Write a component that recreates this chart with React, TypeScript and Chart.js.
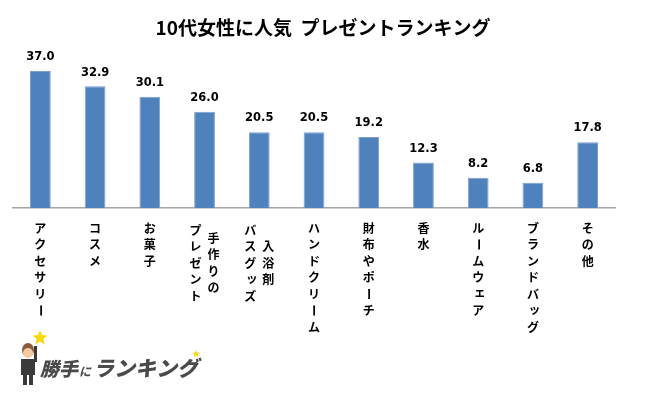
import React, { useEffect, useRef } from 'react';
import { Chart, registerables } from 'chart.js';

Chart.register(...registerables);

const chartTitle = '10代女性に人気  プレゼントランキング';
// each category: columns of vertical text, first column is rightmost (reading order)
const categoryColumns: string[][] = [
  ['アクセサリー'],
  ['コスメ'],
  ['お菓子'],
  ['手作りの', 'プレゼント'],
  ['入浴剤', 'バスグッズ'],
  ['ハンドクリーム'],
  ['財布やポーチ'],
  ['香水'],
  ['ルームウェア'],
  ['ブランドバッグ'],
  ['その他'],
];
const categories = categoryColumns.map((c) => c.join(''));
const values = [37.0, 32.9, 30.1, 26.0, 20.5, 20.5, 19.2, 12.3, 8.2, 6.8, 17.8];
const logoMain = '勝手';
const logoMid = 'に';
const logoSub = 'ランキング';

const SMALL_KANA = 'ッェャュョァィゥォっゃゅょ';

function drawVerticalColumn(ctx: CanvasRenderingContext2D, text: string, x: number, yTop: number, lh: number) {
  const chars = Array.from(text);
  chars.forEach((ch, i) => {
    const y = yTop + i * lh;
    ctx.save();
    if (ch === 'ー') {
      ctx.translate(x, y);
      ctx.rotate(Math.PI / 2);
      ctx.fillText(ch, 0, 0);
    } else if (SMALL_KANA.includes(ch)) {
      ctx.fillText(ch, x + 1.5, y - 1.5);
    } else {
      ctx.fillText(ch, x, y);
    }
    ctx.restore();
  });
}

function drawStar(ctx: CanvasRenderingContext2D, cx: number, cy: number, r: number, color: string) {
  ctx.save();
  ctx.beginPath();
  for (let i = 0; i < 10; i++) {
    const rr = i % 2 === 0 ? r : r * 0.45;
    const a = -Math.PI / 2 + (i * Math.PI) / 5;
    const px = cx + rr * Math.cos(a);
    const py = cy + rr * Math.sin(a);
    if (i === 0) ctx.moveTo(px, py);
    else ctx.lineTo(px, py);
  }
  ctx.closePath();
  ctx.fillStyle = color;
  ctx.fill();
  ctx.restore();
}

const decorPlugin = {
  id: 'decor',
  afterDraw(chart: any) {
    const ctx: CanvasRenderingContext2D = chart.ctx;
    const xScale = chart.scales.x;
    const area = chart.chartArea;
    ctx.save();
    // title
    ctx.fillStyle = '#000';
    ctx.font = 'bold 19px "Noto Sans CJK JP", sans-serif';
    ctx.textAlign = 'center';
    ctx.textBaseline = 'middle';
    ctx.fillText(chartTitle, 323, 28);

    // value labels
    const meta = chart.getDatasetMeta(0);
    ctx.font = 'bold 11.5px "DejaVu Sans", sans-serif';
    ctx.textBaseline = 'bottom';
    meta.data.forEach((bar: any, i: number) => {
      ctx.fillText(values[i].toFixed(1), bar.x, bar.y - 8);
    });

    // category labels (vertical)
    ctx.font = 'bold 12px "Noto Sans CJK JP", sans-serif';
    ctx.textBaseline = 'middle';
    const lh = 16.5;
    const top = area.bottom + 20;
    categoryColumns.forEach((cols, i) => {
      const cx = xScale.getPixelForValue(i);
      if (cols.length === 1) {
        drawVerticalColumn(ctx, cols[0], cx, top, lh);
      } else {
        const maxLen = Math.max(...cols.map((c) => Array.from(c).length));
        const gap = 18;
        cols.forEach((col, j) => {
          const x = cx + gap / 2 - j * gap;
          const len = Array.from(col).length;
          const yTop = top + 2 + ((maxLen - len) * lh) / 2;
          drawVerticalColumn(ctx, col, x, yTop, lh);
        });
      }
    });

    // logo
    const lx = 16;
    const ly = 340;
    ctx.fillStyle = '#8a5a3b';
    ctx.beginPath();
    ctx.ellipse(lx + 12, ly + 10, 6, 7, 0, 0, Math.PI * 2);
    ctx.fill();
    ctx.fillStyle = '#f2c9a0';
    ctx.beginPath();
    ctx.ellipse(lx + 12, ly + 13, 5, 5, 0, 0, Math.PI * 2);
    ctx.fill();
    ctx.fillStyle = '#3a3a3a';
    ctx.fillRect(lx + 5, ly + 19, 14, 16);
    ctx.fillRect(lx + 7, ly + 35, 4, 10);
    ctx.fillRect(lx + 13, ly + 35, 4, 10);
    ctx.fillRect(lx + 18, ly + 6, 3, 16);
    drawStar(ctx, lx + 24, ly - 2, 8, '#f7d917');
    ctx.fillStyle = '#4a4a4a';
    ctx.textAlign = 'left';
    ctx.textBaseline = 'alphabetic';
    ctx.font = 'italic 900 19px "Noto Sans CJK JP", sans-serif';
    ctx.fillText(logoMain, lx + 24, ly + 36);
    ctx.font = 'italic bold 12px "Noto Sans CJK JP", sans-serif';
    ctx.fillText(logoMid, lx + 63, ly + 36);
    ctx.font = 'italic 900 21px "Noto Sans CJK JP", sans-serif';
    ctx.fillText(logoSub, lx + 77, ly + 36);
    drawStar(ctx, lx + 180, ly + 14, 4, '#f7d917');
    ctx.restore();
  },
};

export default function App() {
  const canvasRef = useRef<HTMLCanvasElement | null>(null);
  useEffect(() => {
    if (!canvasRef.current) return;
    const chart = new Chart(canvasRef.current, {
      type: 'bar',
      data: {
        labels: categories,
        datasets: [
          {
            data: values,
            backgroundColor: '#4f81bd',
            borderColor: '#7aa0d0',
            borderWidth: 1,
            barPercentage: 0.38,
            categoryPercentage: 1,
          },
        ],
      },
      options: {
        animation: false,
        responsive: false,
        maintainAspectRatio: false,
        layout: { padding: { left: 13, right: 35, top: 60, bottom: 185 } },
        plugins: {
          legend: { display: false },
          title: { display: false },
          tooltip: { enabled: false },
        },
        scales: {
          x: {
            grid: { display: false, drawTicks: false },
            border: { display: true, color: '#a6a6a6', width: 1.5 },
            ticks: { display: false },
          },
          y: {
            display: false,
            min: 0,
            max: 40,
          },
        },
      },
      plugins: [decorPlugin],
    });
    return () => chart.destroy();
  }, []);
  return (
    <div style={{ position: 'fixed', left: 0, top: 0, width: 650, height: 393, background: '#fff' }}>
      <canvas ref={canvasRef} width={650} height={393} />
    </div>
  );
}
